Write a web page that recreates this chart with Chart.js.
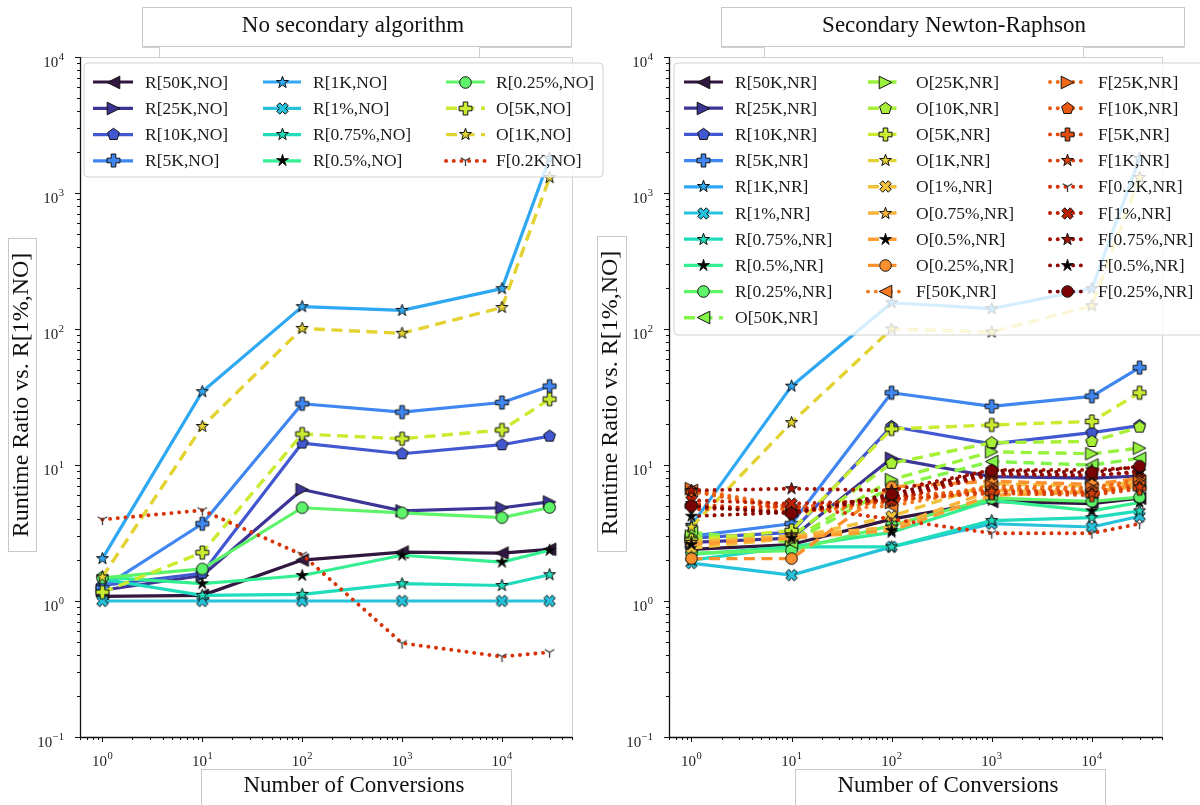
<!DOCTYPE html>
<html><head><meta charset="utf-8">
<script src="https://cdn.jsdelivr.net/npm/chart.js@4.4.1/dist/chart.umd.min.js"></script>
<style>
html,body{margin:0;padding:0;background:#fff;}
#wrap{position:relative;width:1200px;height:805px;overflow:hidden;background:#fff;}
canvas{position:absolute;left:0;top:0;}
</style></head><body>
<div id="wrap"><canvas id="c1" width="1200" height="805"></canvas><canvas id="c2" width="1200" height="805"></canvas></div>
<script>
// ---------------- DATA ----------------
const conversions = [1, 10, 100, 1000, 10000, 30000];
const xTickValues = [1, 10, 100, 1000, 10000];
const xTickExps = ['0', '1', '2', '3', '4'];
const yTickValues = [0.1, 1, 10, 100, 1000, 10000];
const yTickExps = ['\u22121', '0', '1', '2', '3', '4'];

const titleLeft = 'No secondary algorithm';
const titleRight = 'Secondary Newton-Raphson';
const xAxisTitle = 'Number of Conversions';
const yAxisTitle = 'Runtime Ratio vs. R[1%,NO]';

// Left panel: no secondary algorithm
const leftLabels = ['R[50K,NO]','R[25K,NO]','R[10K,NO]','R[5K,NO]','R[1K,NO]','R[1%,NO]',
  'R[0.75%,NO]','R[0.5%,NO]','R[0.25%,NO]','O[5K,NO]','O[1K,NO]','F[0.2K,NO]'];
const no_R50K  = [1.08, 1.1, 2.0, 2.29, 2.25, 2.4];
const no_R25K  = [1.2, 1.54, 6.6, 4.6, 4.85, 5.35];
const no_R10K  = [1.3, 1.6, 14.5, 12.1, 14.1, 16.3];
const no_R5K   = [1.25, 3.7, 28.2, 24.5, 28.8, 38];
const no_R1K   = [2.05, 34.6, 146, 137, 198, 1800];
const no_R1p   = [1, 1, 1, 1, 1, 1];
const no_R075p = [1.45, 1.1, 1.12, 1.34, 1.3, 1.56];
const no_R05p  = [1.5, 1.34, 1.54, 2.17, 1.93, 2.36];
const no_R025p = [1.48, 1.72, 4.85, 4.45, 4.1, 4.87];
const no_O5K   = [1.16, 2.27, 16.9, 15.6, 18.1, 30.5];
const no_O1K   = [1.5, 19.2, 101, 93, 144, 1300];
const no_F02K  = [3.97, 4.65, 2.19, 0.49, 0.39, 0.42];
const leftValues = [no_R50K, no_R25K, no_R10K, no_R5K, no_R1K, no_R1p, no_R075p, no_R05p, no_R025p, no_O5K, no_O1K, no_F02K];

// Right panel: secondary Newton-Raphson
const rightLabels = ['R[50K,NR]','R[25K,NR]','R[10K,NR]','R[5K,NR]','R[1K,NR]','R[1%,NR]','R[0.75%,NR]',
  'R[0.5%,NR]','R[0.25%,NR]','O[50K,NR]','O[25K,NR]','O[10K,NR]','O[5K,NR]','O[1K,NR]','O[1%,NR]',
  'O[0.75%,NR]','O[0.5%,NR]','O[0.25%,NR]','F[50K,NR]','F[25K,NR]','F[10K,NR]','F[5K,NR]','F[1K,NR]',
  'F[0.2K,NR]','F[1%,NR]','F[0.75%,NR]','F[0.5%,NR]','F[0.25%,NR]'];
const nr_R50K  = [2.4, 2.6, 4.0, 5.4, 5.2, 5.7];
const nr_R25K  = [2.7, 2.9, 11.2, 8.2, 8.0, 8.3];
const nr_R10K  = [2.9, 3.2, 19.2, 14.3, 17.3, 19.5];
const nr_R5K   = [3.0, 3.7, 34, 27, 32, 52];
const nr_R1K   = [3.6, 38, 156, 141, 198, 1800];
const nr_R1p   = [1.9, 1.55, 2.5, 3.7, 3.5, 4.2];
const nr_R075p = [2.0, 2.5, 2.5, 3.9, 4.1, 4.6];
const nr_R05p  = [2.2, 2.5, 3.2, 5.5, 4.6, 5.3];
const nr_R025p = [2.25, 2.35, 3.6, 5.7, 5.4, 5.8];
const nr_O50K  = [3.2, 2.7, 6.9, 10.6, 10.0, 11.2];
const nr_O25K  = [3.0, 2.8, 7.8, 12.5, 12.1, 13.3];
const nr_O10K  = [2.8, 3.0, 10.3, 14.6, 14.9, 19.0];
const nr_O5K   = [2.8, 3.3, 18.4, 19.7, 20.9, 34];
const nr_O1K   = [3.5, 20.5, 100, 95, 148, 1300];
const nr_O1p   = [2.45, 2.9, 4.2, 7.3, 7.0, 7.5];
const nr_O075p = [2.7, 3.0, 3.5, 6.5, 6.3, 7.0];
const nr_O05p  = [2.6, 2.9, 3.3, 6.0, 6.3, 7.3];
const nr_O025p = [2.05, 2.05, 6.9, 7.6, 7.2, 8.0];
const nr_F50K  = [6.5, 4.6, 5.0, 6.8, 6.6, 7.6];
const nr_F25K  = [6.7, 4.9, 5.3, 7.0, 6.8, 7.8];
const nr_F10K  = [6.4, 4.8, 5.8, 6.6, 6.4, 7.2];
const nr_F5K   = [5.0, 4.4, 5.6, 6.2, 6.0, 6.7];
const nr_F1K   = [5.2, 4.5, 5.5, 6.4, 6.2, 6.9];
const nr_F02K  = [4.7, 5.0, 4.0, 3.15, 3.15, 3.7];
const nr_F1p   = [5.5, 5.2, 5.5, 8.5, 8.4, 8.8];
const nr_F075p = [6.5, 6.7, 6.5, 9.2, 9.2, 9.6];
const nr_F05p  = [4.2, 4.5, 5.8, 8.7, 8.3, 9.0];
const nr_F025p = [5.0, 4.4, 6.1, 9.1, 8.8, 9.8];
const rightValues = [nr_R50K, nr_R25K, nr_R10K, nr_R5K, nr_R1K, nr_R1p, nr_R075p, nr_R05p, nr_R025p,
  nr_O50K, nr_O25K, nr_O10K, nr_O5K, nr_O1K, nr_O1p, nr_O075p, nr_O05p, nr_O025p,
  nr_F50K, nr_F25K, nr_F10K, nr_F5K, nr_F1K, nr_F02K, nr_F1p, nr_F075p, nr_F05p, nr_F025p];

// ---------------- STYLES ----------------
const COLORS = {
  'R[50K':'#31163f','R[25K':'#3d3596','R[10K':'#4258d0','R[5K':'#3f86f0','R[1K':'#2ea8f2',
  'R[1%':'#26c2dc','R[0.75%':'#1fdcbc','R[0.5%':'#34ee92','R[0.25%':'#5ef46a',
  'O[50K':'#84f548','O[25K':'#98f23c','O[10K':'#a8f038','O[5K':'#c9ec30','O[1K':'#e3d332',
  'O[1%':'#f1c23a','O[0.75%':'#f9b23a','O[0.5%':'#fc9e32','O[0.25%':'#fb902e',
  'F[50K':'#f57a22','F[25K':'#ee6a18','F[10K':'#e85a12','F[5K':'#e04c0e','F[1K':'#d83e0a',
  'F[0.2K':'#d83208','F[1%':'#bb2005','F[0.75%':'#a41404','F[0.5%':'#8e0a03','F[0.25%':'#7a0403'
};
const SHAPES = {'50K':'tl','25K':'tr','10K':'pent','5K':'plus','1K':'star','1%':'x','0.75%':'star',
  '0.5%':'bstar','0.25%':'circle','0.2K':'tri'};
const FONT = '"Liberation Serif","Times New Roman",serif';

const markerCache = {};
function makeMarker(shape, fill) {
  const k = shape + fill;
  if (markerCache[k]) return markerCache[k];
  const d = 19;
  const c = document.createElement('canvas'); c.width = d; c.height = d;
  const g = c.getContext('2d');
  g.translate(d / 2, d / 2);
  g.lineJoin = 'miter';
  g.beginPath();
  let r;
  const poly = (pts) => { pts.forEach((p, i) => i ? g.lineTo(p[0], p[1]) : g.moveTo(p[0], p[1])); g.closePath(); };
  if (shape === 'circle') { g.arc(0, 0, 5.8, 0, Math.PI * 2); }
  else if (shape === 'tl') { r = 6.3; poly([[-r, 0], [r, -r], [r, r]]); }
  else if (shape === 'tr') { r = 6.3; poly([[r, 0], [-r, -r], [-r, r]]); }
  else if (shape === 'pent') { r = 6.2; const p = []; for (let i = 0; i < 5; i++) { const a = -Math.PI / 2 + i * 2 * Math.PI / 5; p.push([r * Math.cos(a), r * Math.sin(a)]); } poly(p); }
  else if (shape === 'plus' || shape === 'x') {
    const L = shape === 'plus' ? 6.5 : 6.0, w = shape === 'plus' ? 2.3 : 2.1;
    let p = [[-w,-L],[w,-L],[w,-w],[L,-w],[L,w],[w,w],[w,L],[-w,L],[-w,w],[-L,w],[-L,-w],[-w,-w]];
    if (shape === 'x') { const ca = Math.SQRT1_2; p = p.map(q => [ (q[0] - q[1]) * ca, (q[0] + q[1]) * ca ]); }
    poly(p);
  }
  else if (shape === 'star' || shape === 'bstar') {
    r = shape === 'star' ? 6.3 : 6.2; const ri = r * (shape === 'star' ? 0.4 : 0.34); const p = [];
    for (let i = 0; i < 10; i++) { const a = -Math.PI / 2 + i * Math.PI / 5; const rr = i % 2 ? ri : r; p.push([rr * Math.cos(a), rr * Math.sin(a)]); }
    poly(p);
  }
  else if (shape === 'tri') {
    r = 5.5;
    g.moveTo(0, 0); g.lineTo(0, r);
    g.moveTo(0, 0); g.lineTo(-r * 0.87, -r * 0.5);
    g.moveTo(0, 0); g.lineTo(r * 0.87, -r * 0.5);
    g.strokeStyle = '#3a3a3a'; g.lineWidth = 1.3; g.stroke();
    markerCache[k] = c; return c;
  }
  g.fillStyle = shape === 'bstar' ? '#000000' : fill; g.fill();
  g.lineWidth = 1; g.strokeStyle = '#111111'; g.stroke();
  markerCache[k] = c;
  return c;
}

function styleFor(label) {
  const m = label.match(/^([ROF])\[([^,]+),/);
  const grp = m[1], key = m[2];
  const color = COLORS[grp + '[' + key];
  const st = { color, marker: makeMarker(SHAPES[key], color), width: 3.2 };
  if (grp === 'R') { st.dash = []; st.cap = 'butt'; }
  else if (grp === 'O') { st.dash = [11, 6.5]; st.cap = 'butt'; st.width = 3.4; }
  else { st.dash = [0.1, 7.6]; st.cap = 'round'; st.width = 3.9; }
  return st;
}

function buildDatasets(labels, values) {
  return labels.map((lab, i) => {
    const st = styleFor(lab);
    return {
      label: lab,
      data: conversions.map((x, j) => ({ x: x, y: values[i][j] })),
      borderColor: st.color, backgroundColor: st.color,
      borderWidth: st.width, borderDash: st.dash, borderCapStyle: st.cap, borderJoinStyle: 'round',
      pointStyle: st.marker, pointRadius: 6, pointHoverRadius: 6, pointBorderWidth: 0,
      tension: 0, fill: false, order: -i, clip: false
    };
  });
}

// ---------------- DRAW HELPERS ----------------
function drawPow(ctx, exp, x, y, align) {
  ctx.font = '15px ' + FONT;
  const wb = ctx.measureText('10').width;
  ctx.font = '10.5px ' + FONT;
  const we = ctx.measureText(exp).width;
  const total = wb + we + 0.5;
  let x0 = align === 'center' ? x - total / 2 : x - total;
  ctx.textAlign = 'left'; ctx.textBaseline = 'alphabetic'; ctx.fillStyle = '#222';
  ctx.font = '15px ' + FONT; ctx.fillText('10', x0, y);
  ctx.font = '10.5px ' + FONT; ctx.fillText(exp, x0 + wb + 0.5, y - 7);
}
function boxRect(ctx, x0, y0, x1, y1) {
  ctx.fillStyle = '#ffffff'; ctx.fillRect(x0, y0, x1 - x0, y1 - y0);
  ctx.strokeStyle = '#c8c8c8'; ctx.lineWidth = 1;
  ctx.strokeRect(Math.round(x0) + 0.5, Math.round(y0) + 0.5, Math.round(x1 - x0), Math.round(y1 - y0));
}
function seg(ctx, pts, color) {
  ctx.beginPath(); pts.forEach((p, i) => i ? ctx.lineTo(p[0] + 0.5, p[1] + 0.5) : ctx.moveTo(p[0] + 0.5, p[1] + 0.5));
  ctx.strokeStyle = color; ctx.lineWidth = 1; ctx.stroke();
}

function makePlugin(P) {
  return {
    id: 'panelDecor' + P.id,
    afterDatasetsDraw(chart) {
      const ctx = chart.ctx, a = chart.chartArea, xs = chart.scales.x, ys = chart.scales.y;
      ctx.save();
      ctx.setLineDash([]);
      // top/right spines light gray
      seg(ctx, [[Math.round(a.left), Math.round(a.top)], [Math.round(a.right), Math.round(a.top)], [Math.round(a.right), Math.round(a.bottom)]], '#cfcfcf');
      // ticks
      ctx.strokeStyle = '#111'; ctx.lineWidth = 1;
      ctx.beginPath();
      for (let e = -1; e <= 5; e++) {
        for (let m = 1; m <= 9; m++) {
          const v = m * Math.pow(10, e);
          const len = m === 1 ? 5 : 3;
          if (v >= xs.min && v <= xs.max) {
            const px = Math.round(xs.getPixelForValue(v)) + 0.5;
            ctx.moveTo(px, a.bottom); ctx.lineTo(px, a.bottom + len);
          }
          if (v >= ys.min * 0.999 && v <= ys.max * 1.001) {
            const py = Math.round(ys.getPixelForValue(v)) + 0.5;
            ctx.moveTo(a.left, py); ctx.lineTo(a.left - len, py);
          }
        }
      }
      ctx.stroke();
      // left/bottom spines
      ctx.beginPath();
      ctx.moveTo(Math.round(a.left) + 0.5, a.top); ctx.lineTo(Math.round(a.left) + 0.5, Math.round(a.bottom) + 0.5);
      ctx.lineTo(a.right, Math.round(a.bottom) + 0.5);
      ctx.strokeStyle = '#111'; ctx.lineWidth = 1.3; ctx.stroke();
      // tick labels
      xTickValues.forEach((v, i) => drawPow(ctx, xTickExps[i], xs.getPixelForValue(v), a.bottom + 29, 'center'));
      yTickValues.forEach((v, i) => drawPow(ctx, yTickExps[i], a.left - 16, ys.getPixelForValue(v) + 10, 'right'));

      // legend
      const L = P.legend;
      ctx.beginPath();
      const rr = 4, x0 = L.x0, y0 = L.y0, x1 = L.x1, y1 = L.y1;
      ctx.moveTo(x0 + rr, y0); ctx.lineTo(x1 - rr, y0); ctx.quadraticCurveTo(x1, y0, x1, y0 + rr);
      ctx.lineTo(x1, y1 - rr); ctx.quadraticCurveTo(x1, y1, x1 - rr, y1); ctx.lineTo(x0 + rr, y1);
      ctx.quadraticCurveTo(x0, y1, x0, y1 - rr); ctx.lineTo(x0, y0 + rr); ctx.quadraticCurveTo(x0, y0, x0 + rr, y0);
      ctx.closePath();
      ctx.fillStyle = 'rgba(255,255,255,0.8)'; ctx.fill();
      ctx.strokeStyle = '#d2d2d2'; ctx.lineWidth = 1; ctx.stroke();
      let idx = 0;
      const dsets = chart.data.datasets;
      L.cols.forEach((col) => {
        for (let r = 0; r < col.n; r++, idx++) {
          const ds = dsets[idx];
          const y = L.rowY + r * L.rowDy;
          ctx.save();
          ctx.beginPath(); ctx.moveTo(col.h0, y); ctx.lineTo(col.h1, y);
          ctx.strokeStyle = ds.borderColor; ctx.lineWidth = ds.borderWidth;
          ctx.setLineDash(ds.borderDash); ctx.lineCap = ds.borderCapStyle; ctx.stroke();
          ctx.restore();
          const img = ds.pointStyle;
          const cx = (col.h0 + col.h1) / 2;
          ctx.drawImage(img, Math.round(cx - img.width / 2), Math.round(y - img.height / 2));
          ctx.fillStyle = '#1a1a1a'; ctx.font = '17.5px ' + FONT;
          ctx.textAlign = 'left'; ctx.textBaseline = 'middle';
          ctx.fillText(ds.label, col.tx, y + 1);
        }
      });
      ctx.restore();
    },
    afterDraw(chart) {
      const ctx = chart.ctx;
      ctx.save();
      // title box
      const T = P.titleBox;
      seg(ctx, [[T.x0, 47], [T.a, 47], [T.a, 57]], '#cfcfcf');
      seg(ctx, [[T.b, 57], [T.b, 47], [T.x1, 47]], '#cfcfcf');
      boxRect(ctx, T.x0, 7, T.x1, 46);
      ctx.fillStyle = '#111'; ctx.font = '23px ' + FONT; ctx.textAlign = 'center'; ctx.textBaseline = 'alphabetic';
      ctx.fillText(P.title, T.cx, 32);
      // x label box
      const X = P.xBox;
      boxRect(ctx, X.x0, 769, X.x1, 812);
      ctx.fillStyle = '#111'; ctx.font = '23px ' + FONT; ctx.textAlign = 'center';
      ctx.fillText(xAxisTitle, X.cx, 792);
      // y label box
      const Y = P.yBox;
      boxRect(ctx, Y.x0, Y.y0, Y.x1, Y.y1);
      ctx.translate(Y.cx, Y.cy); ctx.rotate(-Math.PI / 2);
      ctx.fillStyle = '#111'; ctx.font = '24px ' + FONT; ctx.textAlign = 'center'; ctx.textBaseline = 'middle';
      ctx.fillText(yAxisTitle, 0, 0);
      ctx.restore();
    }
  };
}

function makeChart(id, P, labels, values) {
  const dec = 0.224;
  return new Chart(document.getElementById(id), {
    type: 'line',
    data: { datasets: buildDatasets(labels, values) },
    options: {
      responsive: false, animation: false, events: [],
      layout: { padding: { left: P.area.left, right: 1200 - P.area.right, top: P.area.top, bottom: 805 - P.area.bottom } },
      scales: {
        x: { type: 'logarithmic', min: Math.pow(10, -dec), max: Math.pow(10, Math.log10(30000) + dec), display: false },
        y: { type: 'logarithmic', min: 0.1, max: 10000, display: false }
      },
      plugins: { legend: { display: false }, tooltip: { enabled: false }, title: { display: false } }
    },
    plugins: [makePlugin(P)]
  });
}

const panelLeft = {
  id: 'L', title: titleLeft,
  area: { left: 80, right: 572, top: 57, bottom: 737 },
  titleBox: { x0: 142, x1: 571, a: 159, b: 479, cx: 353 },
  xBox: { x0: 201, x1: 511, cx: 354 },
  yBox: { x0: 8, x1: 36, y0: 238, y1: 551, cx: 22, cy: 395 },
  legend: { x0: 84, y0: 63, x1: 603, y1: 177, rowY: 82, rowDy: 26.3,
    cols: [ { n: 4, h0: 93, h1: 133, tx: 145 }, { n: 4, h0: 263, h1: 301, tx: 313 }, { n: 4, h0: 446, h1: 485, tx: 496 } ] }
};
const panelRight = {
  id: 'R', title: titleRight,
  area: { left: 669, right: 1162, top: 57, bottom: 737 },
  titleBox: { x0: 721, x1: 1184, a: 764, b: 1083, cx: 954 },
  xBox: { x0: 795, x1: 1105, cx: 948 },
  yBox: { x0: 597, x1: 626, y0: 236, y1: 551, cx: 611, cy: 393 },
  legend: { x0: 674, y0: 63, x1: 1204, y1: 335, rowY: 82, rowDy: 26.2,
    cols: [ { n: 10, h0: 684, h1: 723, tx: 735 }, { n: 9, h0: 868, h1: 903, tx: 916 }, { n: 9, h0: 1050, h1: 1085, tx: 1098 } ] }
};

makeChart('c1', panelLeft, leftLabels, leftValues);
makeChart('c2', panelRight, rightLabels, rightValues);
</script>
</body></html>
